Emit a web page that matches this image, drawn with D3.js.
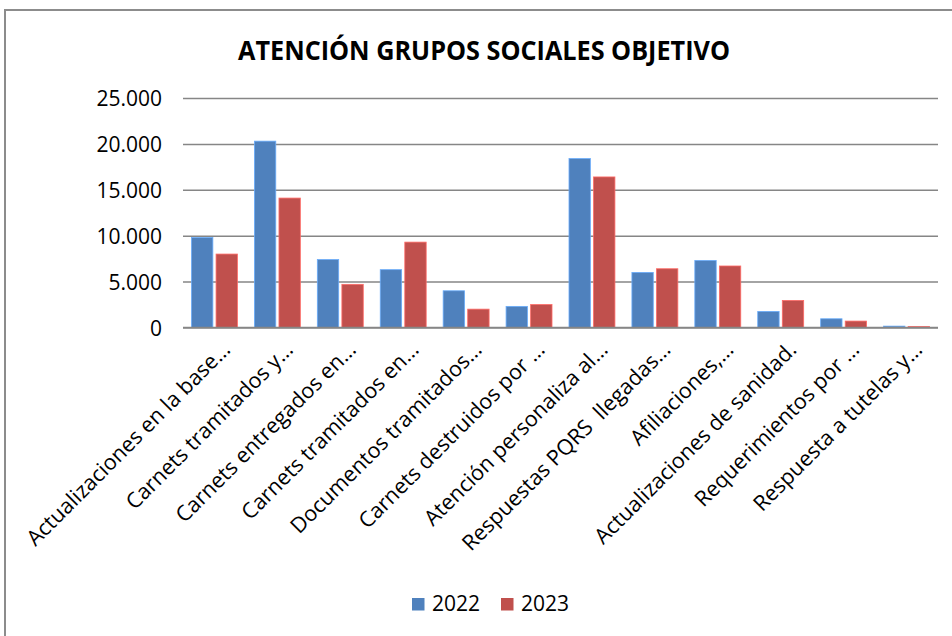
<!DOCTYPE html>
<html><head><meta charset="utf-8">
<script src="https://cdn.jsdelivr.net/npm/d3@7"></script>
<style>body{margin:0;background:#fff}svg{display:block}</style>
</head><body>
<script>
const categories = ["Actualizaciones en la base…","Carnets tramitados y…","Carnets entregados en…","Carnets tramitados en…","Documentos tramitados…","Carnets destruidos por …","Atención personaliza al…","Respuestas PQRS  llegadas…","Afiliaciones,…","Actualizaciones de sanidad.","Requerimientos por …","Respuesta a tutelas y…"];
const series = ["2022","2023"];
const values2022 = [9800,20300,7400,6300,4000,2300,18400,6000,7300,1750,950,150];
const values2023 = [8000,14100,4700,9300,2000,2500,16400,6400,6700,2950,700,120];
const yTicks = [0,5000,10000,15000,20000,25000];
const colors = ["#4F81BD","#C0504D"];
const title = "ATENCIÓN GRUPOS SOCIALES OBJETIVO";

const W=952,H=636;
const svg=d3.select("body").append("svg").attr("width",W).attr("height",H);
svg.append("rect").attr("x",5).attr("y",10).attr("width",W+10).attr("height",H+10)
  .attr("fill","#fff").attr("stroke","#8c8c8c").attr("stroke-width",2);

const font="'Open Sans', sans-serif";
const x0=d3.scaleBand().domain(categories).range([183,938]).paddingInner(0.27).paddingOuter(0.135);
const x1=d3.scaleBand().domain(series).range([0,x0.bandwidth()]).paddingInner(0.13);
const y=d3.scaleLinear().domain([0,25000]).range([327.5,98]);

svg.append("text").attr("x",238).attr("y",59.5).attr("text-anchor","start")
  .attr("font-family",font).attr("font-weight","bold").attr("font-size",26)
  .attr("textLength",492).attr("lengthAdjust","spacingAndGlyphs")
  .attr("fill","#000").text(title);

const fmt=d3.formatLocale({decimal:",",thousands:".",grouping:[3],currency:["$",""]}).format(",");
const yAxis=svg.append("g").attr("transform","translate(183,0)")
  .call(d3.axisLeft(y).tickValues(yTicks).tickSize(-755).tickFormat(fmt).tickPadding(21));
yAxis.select(".domain").remove();
yAxis.selectAll(".tick line").attr("stroke","#868686").attr("stroke-width",1.5);
yAxis.selectAll(".tick text").attr("font-family",font).attr("font-size",21).attr("fill","#000")
  .attr("dy","0.36em");

const data=categories.map((c,i)=>({c,vals:[values2022[i],values2023[i]]}));
const g=svg.append("g");
g.selectAll("g.cat").data(data).join("g").attr("class","cat")
  .attr("transform",d=>`translate(${x0(d.c)},0)`)
  .selectAll("rect").data(d=>d.vals.map((v,j)=>({s:series[j],v,j}))).join("rect")
  .attr("x",d=>x1(d.s)).attr("width",x1.bandwidth())
  .attr("y",d=>y(d.v)).attr("height",d=>y(0)-y(d.v))
  .attr("fill",d=>colors[d.j]).attr("stroke",d=>d3.color(colors[d.j]).brighter(0.8)).attr("stroke-width",0.8);

const xAxis=svg.append("g").attr("transform","translate(0,327.5)")
  .call(d3.axisBottom(x0).tickSize(0).tickPadding(0));
xAxis.select(".domain").attr("stroke","#868686").attr("stroke-width",1.5).attr("d","M183,0H938");
xAxis.selectAll(".tick text").attr("font-family",font).attr("font-size",21.5).attr("fill","#000")
  .style("white-space","pre")
  .attr("x",0).attr("y",0).attr("dy",0)
  .attr("text-anchor","end").attr("transform","translate(17,23.5) rotate(-45)");

const leg=svg.append("g");
series.forEach((s,i)=>{
  const lx=412+i*89;
  leg.append("rect").attr("x",lx).attr("y",598).attr("width",12.5).attr("height",12.5).attr("fill",colors[i]);
  leg.append("text").attr("x",lx+20).attr("y",611).attr("font-family",font).attr("font-size",21).attr("fill","#000").text(s);
});
</script>
</body></html>
